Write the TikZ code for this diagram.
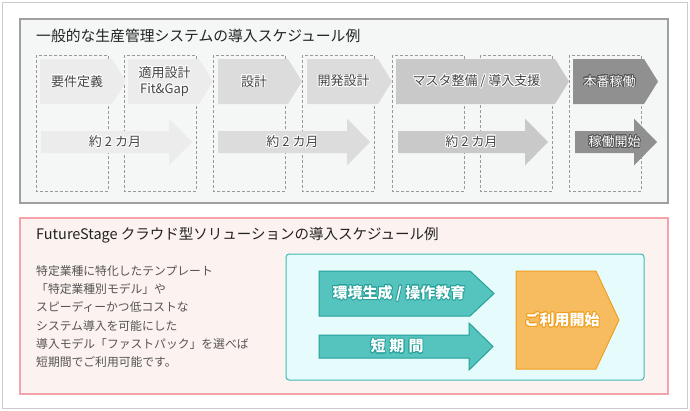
\documentclass[tikz,border=0pt]{standalone}
\usepackage{fontspec}
\setmainfont{Noto Sans CJK JP}
\usepackage{contour}
\contourlength{0.8pt}
\definecolor{SchedInk}{HTML}{222222}
\definecolor{SchedText}{HTML}{444444}
\definecolor{SchedNote}{HTML}{555555}
\definecolor{SchedFrame}{HTML}{CCCCCC}
\definecolor{SchedPanel}{HTML}{F5F7F7}
\definecolor{SchedPanelLine}{HTML}{A0A0A0}
\definecolor{SchedGuide}{HTML}{999999}
\definecolor{StepA}{HTML}{ECECEC}
\definecolor{StepB}{HTML}{DCDCDC}
\definecolor{StepC}{HTML}{C9C9C9}
\definecolor{StepD}{HTML}{909090}
\definecolor{StepDark}{HTML}{555555}
\definecolor{CloudPanel}{HTML}{FCF2EF}
\definecolor{CloudLine}{HTML}{F4A3AA}
\definecolor{CloudBox}{HTML}{E6FCFC}
\definecolor{CloudBoxLine}{HTML}{3FB8B3}
\definecolor{CloudTeal}{HTML}{56C4BE}
\definecolor{CloudTealDark}{HTML}{24A098}
\definecolor{CloudOrange}{HTML}{F8BC60}
\definecolor{CloudOrangeDark}{HTML}{EFA020}
\newcommand{\glow}[1]{\contour{white}{#1}}
\newcommand{\glowon}[2]{\textcolor{white}{\contour{#1}{#2}}}
\tikzset{
  every node/.style={text=SchedInk, inner sep=0pt},
  frame/.style={draw=SchedFrame, line width=1pt, fill=white},
  panel/.style={draw=SchedPanelLine, line width=1.2pt, fill=SchedPanel},
  cloudpanel/.style={draw=CloudLine, line width=1.2pt, fill=CloudPanel},
  guide/.style={draw=SchedGuide, line width=0.6pt, dash pattern=on 3pt off 2pt},
  heading/.style={font=\fontsize{14.8}{18}\selectfont, anchor=west},
  steplabel/.style={font=\fontsize{13}{16}\selectfont, text=SchedText, align=center},
  note/.style={font=\fontsize{11.8}{14}\selectfont, text=SchedNote, anchor=west},
  teal/.style={draw=CloudTealDark, line width=1pt, fill=CloudTeal},
  golabel/.style={font=\fontsize{15}{18}\selectfont\bfseries},
}
\begin{document}
\begin{tikzpicture}[x=1pt,y=-1pt]
  \useasboundingbox (0,0) rectangle (690,410);
  \draw[frame] (2,2) rectangle (687,408);
  % general schedule
  \draw[panel] (20,19) rectangle (668,203);
  \node[heading] (gentitle) at (36,36) {一般的な生産管理システムの導入スケジュール例};
  \foreach \x in {36,124,213,302,392,480,569}
    \draw[guide] (\x,55) rectangle ++(72,136);
  \foreach \n/\xa/\xb/\col/\txt in {
      req/40/112/StepA/{\glow{要件定義}},
      fit/128/199/StepA/{\glow{適用設計}\\\glow{Fit\&Gap}},
      design/218/288/StepB/{\glow{設計}},
      dev/307/378/StepB/{\glow{開発設計}},
      master/396/555/StepC/{\glow{マスタ整備 / 導入支援}},
      live/573/644/StepD/{\glowon{StepDark}{本番稼働}}}{
    \fill[\col] (\xa,59) -- (\xb,59) -- (\xb+14,81.5) -- (\xb,104) -- (\xa,104) -- cycle;
    \node[steplabel] (\n) at ({(\xa+\xb)/2+1},81.5) {\txt};
  }
  \foreach \n/\xa/\xh/\col/\txt in {
      termA/41/169/StepA/{\glow{約 2 カ月}},
      termB/218/347/StepB/{\glow{約 2 カ月}},
      termC/398/525/StepC/{\glow{約 2 カ月}},
      golive/575/634/StepD/{\glowon{StepDark}{稼働開始}}}{
    \fill[\col] (\xa,131) -- (\xh,131) -- (\xh,118.5) -- (\xh+23,142) -- (\xh,165.5)
      -- (\xh,153) -- (\xa,153) -- cycle;
    \node[steplabel] (\n) at ({(\xa+\xh)/2+10},142) {\txt};
  }
  % cloud schedule
  \draw[cloudpanel] (20,218) rectangle (668,394);
  \node[heading, font=\fontsize{14.5}{18}\selectfont] (cloudtitle) at (36,235)
    {FutureStage クラウド型ソリューションの導入スケジュール例};
  \foreach \i/\t in {0/特定業種に特化したテンプレート, 1/「特定業種別モデル」や,
      2/スピーディーかつ低コストな, 3/システム導入を可能にした,
      4/導入モデル「ファストパック」を選べば, 5/短期間でご利用可能です。}
    \node[note] (note\i) at (36,271+18.2*\i) {\t};
  \draw[draw=CloudBoxLine, line width=1pt, fill=CloudBox, rounded corners=3pt]
    (286,254) rectangle (644,380);
  \draw[teal] (319,271) -- (470,271) -- (494,293.5) -- (470,316) -- (319,316) -- cycle;
  \node[golabel] (setup) at (399,293.5) {\glowon{CloudTealDark}{環境生成 / 操作教育}};
  \draw[teal] (319,335) -- (469,335) -- (469,323) -- (493,346.5) -- (469,370)
    -- (469,358) -- (319,358) -- cycle;
  \node[golabel] (short) at (397,346.5)
    {\glowon{CloudTealDark}{短\hspace{4pt}期\hspace{4pt}間}};
  \draw[draw=CloudOrangeDark, line width=1pt, fill=CloudOrange]
    (516,271) -- (596,271) -- (619,320) -- (596,369) -- (516,369) -- cycle;
  \node[golabel] (start) at (562,320) {\glowon{CloudOrangeDark}{ご利用開始}};
\end{tikzpicture}
\end{document}
